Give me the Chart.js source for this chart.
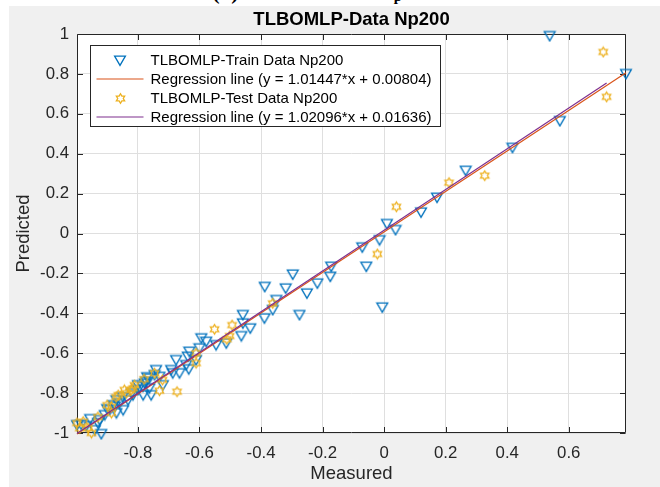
<!DOCTYPE html>
<html>
<head>
<meta charset="utf-8">
<script src="https://cdn.jsdelivr.net/npm/chart.js@4.4.1/dist/chart.umd.min.js"></script>
<style>
  html, body { margin: 0; padding: 0; background: #ffffff; }
  #wrap { position: relative; width: 660px; height: 487px; overflow: hidden; }
  #panel { position: absolute; left: 9px; top: 6px; right: 0; bottom: 0; background: #f0f0f0; }
  #cap { position: absolute; left: 0; top: 0; width: 660px; height: 6px; overflow: hidden; }
  #cap span { position: absolute; left: 212px; top: -20px; font: bold 23px 'Liberation Serif', 'Times New Roman', serif; color: #000; white-space: nowrap; line-height: 23px; }
  #cap sub { font-size: 15px; vertical-align: -2px; }
  canvas { position: absolute; left: 0; top: 0; }
</style>
</head>
<body>
<div id="wrap">
  <div id="panel"></div>
  <div id="cap"><span>(5) TLBOMLP - N<sub>p</sub>200</span></div>
  <canvas id="c" width="660" height="487"></canvas>
</div>
<script>
// Measured / predicted values, training set
const trainX = [
   0.538,  0.786,  0.571,  0.417,  0.265,  0.172,  0.120,  0.009,  0.037, -0.015,
  -0.071, -0.058, -0.006, -0.172, -0.175, -0.217, -0.251, -0.297, -0.320, -0.388,
  -0.350, -0.362, -0.389, -0.275, -0.459, -0.435, -0.459, -0.464, -0.546, -0.594,
  -0.578, -0.600, -0.638, -0.611, -0.643, -0.633, -0.676, -0.635, -0.692, -0.741,
  -0.746, -0.763, -0.773, -0.784, -0.763, -0.757, -0.719, -0.730, -0.998, -0.984,
  -0.968, -0.940, -0.919, -0.924, -0.908, -0.892, -0.875, -0.848, -0.870, -0.832,
  -0.816, -0.800, -0.778, -0.783, -0.665, -0.687, -0.513, -0.870, -0.860, -0.955,
  -0.930, -0.900, -0.880, -0.850, -0.820, -0.800, -0.770
];
const trainY = [
   0.990,  0.800,  0.564,  0.430,  0.315,  0.180,  0.106,  0.048,  0.018, -0.033,
  -0.069, -0.166, -0.370, -0.166, -0.216, -0.250, -0.300, -0.205, -0.275, -0.267,
  -0.333, -0.383, -0.425, -0.408, -0.408, -0.475, -0.450, -0.514, -0.559, -0.525,
  -0.542, -0.575, -0.617, -0.634, -0.659, -0.592, -0.634, -0.680, -0.684, -0.684,
  -0.709, -0.726, -0.743, -0.768, -0.776, -0.810, -0.760, -0.718, -0.960, -0.958,
  -0.965, -0.985, -1.005, -0.935, -0.910, -0.885, -0.868, -0.885, -0.835, -0.835,
  -0.810, -0.784, -0.751, -0.810, -0.700, -0.700, -0.550, -0.900, -0.850, -0.930,
  -0.950, -0.880, -0.860, -0.820, -0.800, -0.760, -0.720
];

// Measured / predicted values, test set
const testX = [
   0.712,  0.723,  0.327,  0.211,  0.040, -0.022, -0.362, -0.551, -0.494, -0.502,
  -0.511, -0.611, -0.611, -0.746, -0.720, -0.730, -0.673, -0.811, -0.822, -0.844,
  -0.871, -0.998, -0.978, -0.962, -0.989, -0.951, -0.886, -0.864, -0.837, -0.816,
  -0.886, -0.930, -0.900, -0.780
];
const testY = [
   0.910,  0.685,  0.290,  0.255,  0.134, -0.103, -0.350, -0.480, -0.459, -0.514,
  -0.530, -0.600, -0.650, -0.700, -0.734, -0.788, -0.793, -0.760, -0.784, -0.784,
  -0.820, -0.950, -0.943, -0.976, -0.976, -1.000, -0.868, -0.810, -0.800, -0.776,
  -0.900, -0.920, -0.860, -0.730
];

// Fitted regression lines: [slope, intercept]
const trainFit = [1.01447, 0.00804];
const testFit  = [1.02096, 0.01636];

// Axis ticks
const xTickValues = [-0.8, -0.6, -0.4, -0.2, 0, 0.2, 0.4, 0.6];
const xTickLabels = ['-0.8', '-0.6', '-0.4', '-0.2', '0', '0.2', '0.4', '0.6'];
const yTickValues = [-1, -0.8, -0.6, -0.4, -0.2, 0, 0.2, 0.4, 0.6, 0.8, 1];
const yTickLabels = ['-1', '-0.8', '-0.6', '-0.4', '-0.2', '0', '0.2', '0.4', '0.6', '0.8', '1'];

const titleText = 'TLBOMLP-Data Np200';
const FONT = "'Liberation Sans', Arial, Helvetica, sans-serif";
const BLUE = '#0072BD', ORANGE = '#D95319', YELLOW = '#EDB120', PURPLE = '#7E2F8E';

// Hollow downward triangle marker
function triangleMarker(color) {
  const c = document.createElement('canvas');
  c.width = 14; c.height = 13;
  const g = c.getContext('2d');
  g.strokeStyle = color; g.lineWidth = 1.3; g.lineJoin = 'miter';
  g.beginPath();
  g.moveTo(1.6, 2.2); g.lineTo(12.4, 2.2); g.lineTo(7, 11.4); g.closePath();
  g.stroke();
  return c;
}
// Hollow six-pointed star marker
function hexagramMarker(color) {
  const c = document.createElement('canvas');
  c.width = 13; c.height = 13;
  const g = c.getContext('2d');
  const cx = 6.5, cy = 6.5, ro = 4.8, ri = ro / Math.sqrt(3);
  g.strokeStyle = color; g.lineWidth = 1.3;
  g.beginPath();
  for (let k = 0; k < 12; k++) {
    const r = k % 2 === 0 ? ro : ri;
    const a = -Math.PI / 2 + k * Math.PI / 6;
    const px = cx + r * Math.cos(a), py = cy + r * Math.sin(a);
    if (k === 0) g.moveTo(px, py); else g.lineTo(px, py);
  }
  g.closePath();
  g.stroke();
  return c;
}

const triImg = triangleMarker(BLUE);
const hexImg = hexagramMarker(YELLOW);

const pairs = (xs, ys) => xs.map((x, i) => ({ x: x, y: ys[i] }));
function fitLine(xs, fit) {
  const lo = Math.min(...xs), hi = Math.max(...xs);
  return [{ x: lo, y: fit[0] * lo + fit[1] }, { x: hi, y: fit[0] * hi + fit[1] }];
}
const fitLabel = fit => 'Regression line (y = ' + fit[0].toFixed(5) + '*x + ' + fit[1].toFixed(5) + ')';

const allX = trainX.concat(testX);
const xMin = Math.min(...allX), xMax = Math.max(...allX);

// Axes frame, inward ticks on all four sides, title and boxed legend
const axesDecor = {
  id: 'axesDecor',
  beforeDraw(chart) {
    const { ctx, chartArea: a } = chart;
    ctx.save();
    ctx.fillStyle = '#ffffff';
    ctx.fillRect(a.left, a.top, a.right - a.left, a.bottom - a.top);
    ctx.restore();
  },
  beforeDatasetsDraw(chart) {
    const { ctx, chartArea: a, scales } = chart;
    const L = Math.round(a.left) + 0.5, R = Math.round(a.right) - 0.5;
    const T = Math.round(a.top) + 0.5, B = Math.round(a.bottom) - 0.5;
    const tl = 5.5;
    ctx.save();
    ctx.strokeStyle = '#262626';
    ctx.lineWidth = 1;
    ctx.beginPath();
    ctx.rect(L, T, R - L, B - T);
    scales.x.ticks.forEach(t => {
      const p = Math.round(scales.x.getPixelForValue(t.value)) + 0.5;
      ctx.moveTo(p, B); ctx.lineTo(p, B - tl);
      ctx.moveTo(p, T); ctx.lineTo(p, T + tl);
    });
    scales.y.ticks.forEach(t => {
      const p = Math.round(scales.y.getPixelForValue(t.value)) + 0.5;
      ctx.moveTo(L, p); ctx.lineTo(L + tl, p);
      ctx.moveTo(R, p); ctx.lineTo(R - tl, p);
    });
    ctx.stroke();
    ctx.restore();
  },
  afterDraw(chart) {
    const { ctx, chartArea: a } = chart;
    ctx.save();
    // title
    ctx.fillStyle = '#000000';
    ctx.font = 'bold 18.5px ' + FONT;
    ctx.textAlign = 'center';
    ctx.textBaseline = 'middle';
    ctx.fillText(titleText, (a.left + a.right) / 2, 20);

    // legend
    const items = chart.data.datasets;
    ctx.font = '15px ' + FONT;
    const bx = Math.round(a.left + 13) + 0.5, by = Math.round(a.top + 11) + 0.5;
    const textX = bx + 60, rowH = 19, firstRow = by + 14.5;
    let maxW = 0;
    items.forEach(d => { maxW = Math.max(maxW, ctx.measureText(d.label).width); });
    const bw = Math.round(textX - bx + maxW + 9), bh = 81;
    ctx.fillStyle = '#ffffff';
    ctx.fillRect(bx, by, bw, bh);
    ctx.strokeStyle = '#262626';
    ctx.lineWidth = 1;
    ctx.strokeRect(bx, by, bw, bh);
    const sx0 = bx + 6, sx1 = bx + 53, sc = (sx0 + sx1) / 2;
    items.forEach((d, i) => {
      const cy = firstRow + i * rowH;
      if (d.pointStyle instanceof HTMLCanvasElement) {
        const im = d.pointStyle;
        ctx.drawImage(im, Math.round(sc - im.width / 2), Math.round(cy - im.height / 2));
      } else {
        ctx.strokeStyle = d.borderColor;
        ctx.lineWidth = d.borderWidth;
        ctx.beginPath();
        ctx.moveTo(sx0, cy); ctx.lineTo(sx1, cy);
        ctx.stroke();
      }
      ctx.fillStyle = '#000000';
      ctx.textAlign = 'left';
      ctx.textBaseline = 'middle';
      ctx.fillText(d.label, textX, cy + 0.5);
    });
    ctx.restore();
  }
};

new Chart(document.getElementById('c'), {
  type: 'scatter',
  data: {
    datasets: [
      {
        label: 'TLBOMLP-Train Data Np200',
        data: pairs(trainX, trainY),
        pointStyle: triImg,
        pointRadius: 6,
        borderColor: BLUE,
        backgroundColor: 'transparent',
        clip: false,
        order: 4
      },
      {
        label: fitLabel(trainFit),
        data: fitLine(trainX, trainFit),
        showLine: true,
        pointRadius: 0,
        borderColor: ORANGE,
        borderWidth: 1.2,
        clip: false,
        order: 3
      },
      {
        label: 'TLBOMLP-Test Data Np200',
        data: pairs(testX, testY),
        pointStyle: hexImg,
        pointRadius: 5,
        borderColor: YELLOW,
        backgroundColor: 'transparent',
        clip: false,
        order: 2
      },
      {
        label: fitLabel(testFit),
        data: fitLine(testX, testFit),
        showLine: true,
        pointRadius: 0,
        borderColor: PURPLE,
        borderWidth: 1.2,
        clip: false,
        order: 1
      }
    ]
  },
  options: {
    responsive: false,
    animation: false,
    devicePixelRatio: 1,
    layout: { padding: { top: 34, right: 34, bottom: 0, left: 0 } },
    plugins: { legend: { display: false }, tooltip: { enabled: false }, title: { display: false } },
    scales: {
      x: {
        type: 'linear',
        min: xMin,
        max: xMax,
        afterFit: s => { s.height = 54; },
        afterBuildTicks: s => { s.ticks = xTickValues.map(v => ({ value: v })); },
        ticks: {
          includeBounds: false,
          padding: 10,
          color: '#262626',
          font: { family: FONT, size: 16.8 },
          callback: (v, i) => xTickLabels[i]
        },
        grid: { color: '#dfdfdf', lineWidth: 1, drawTicks: false },
        border: { display: false },
        title: {
          display: true,
          text: 'Measured',
          color: '#262626',
          font: { family: FONT, size: 18.5 },
          padding: { top: 0, bottom: 2 }
        }
      },
      y: {
        type: 'linear',
        min: -1,
        max: 1,
        afterFit: s => { s.width = 77; },
        afterBuildTicks: s => { s.ticks = yTickValues.map(v => ({ value: v })); },
        ticks: {
          padding: 8,
          color: '#262626',
          font: { family: FONT, size: 16.8 },
          callback: (v, i) => yTickLabels[i]
        },
        grid: { color: '#dfdfdf', lineWidth: 1, drawTicks: false },
        border: { display: false },
        title: {
          display: true,
          text: 'Predicted',
          color: '#262626',
          font: { family: FONT, size: 18.5 },
          padding: { top: 13, bottom: 0 }
        }
      }
    }
  },
  plugins: [axesDecor]
});
</script>
</body>
</html>
